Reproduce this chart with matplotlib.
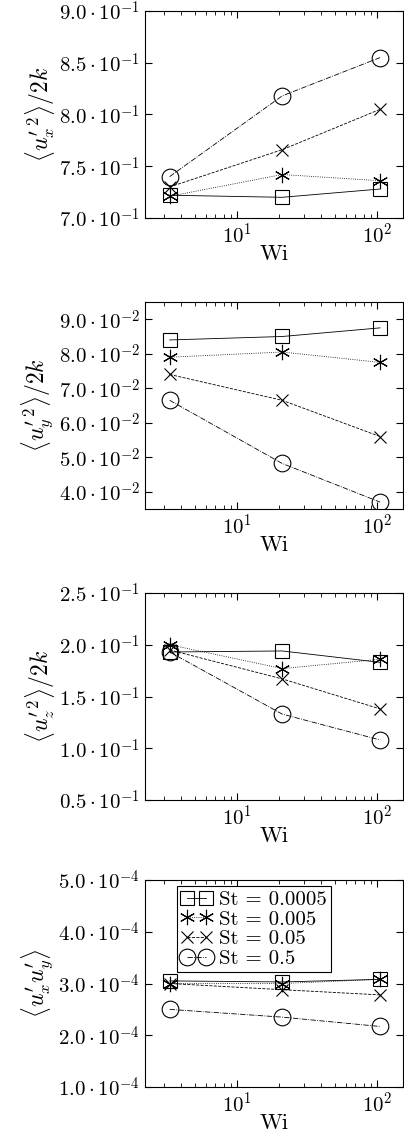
import matplotlib
matplotlib.use("Agg")
import matplotlib.pyplot as plt
from matplotlib.ticker import FixedLocator, FixedFormatter, LogLocator, NullFormatter

plt.rcParams['mathtext.fontset'] = 'cm'
plt.rcParams['font.family'] = ['cmr10', 'DejaVu Serif']
plt.rcParams['axes.formatter.use_mathtext'] = True

wi = [3.3, 21, 105]
labels = ["St = 0.0005", "St = 0.005", "St = 0.05", "St = 0.5"]

ux = [[7.22, 7.20, 7.28], [7.21, 7.42, 7.36], [7.30, 7.66, 8.05], [7.40, 8.18, 8.55]]
uy = [[8.4, 8.5, 8.75], [7.9, 8.05, 7.75], [7.4, 6.65, 5.6], [6.65, 4.82, 3.7]]
uz = [[1.93, 1.94, 1.83], [2.0, 1.77, 1.86], [1.95, 1.67, 1.38], [1.93, 1.33, 1.08]]
uxy = [[3.05, 3.03, 3.08], [3.0, 3.0, 3.08], [3.0, 2.88, 2.78], [2.5, 2.35, 2.17]]

ylabels = [r"$\langle u_x'^2\rangle/2k$", r"$\langle u_y'^2\rangle/2k$",
           r"$\langle u_z'^2\rangle/2k$", r"$\langle u_x' u_y'\rangle$"]
yticks = [[7.0, 7.5, 8.0, 8.5, 9.0], [4.0, 5.0, 6.0, 7.0, 8.0, 9.0],
          [0.5, 1.0, 1.5, 2.0, 2.5], [1.0, 2.0, 3.0, 4.0, 5.0]]
exps = [-1, -2, -1, -4]
ylims = [(7.0, 9.0), (3.5, 9.5), (0.5, 2.5), (1.0, 5.0)]
datas = [ux, uy, uz, uxy]

markers = ['s', (6, 2, 0), 'x', 'o']
styles = ['-', ':', '--', '-.']
msizes = [10, 11, 9, 12]

fig = plt.figure(figsize=(4.04, 11.33), dpi=100)
tops = [11, 302, 593, 880]
H = 1133
for i in range(4):
    top = tops[i]
    ax = fig.add_axes([145/404, 1 - (top + 207)/H, 258/404, 207/H])
    for j in range(4):
        ax.plot(wi, datas[i][j], linestyle=styles[j], marker=markers[j], color='black',
                lw=0.6, ms=msizes[j], mfc='none', mew=0.8, label=labels[j])
    ax.set_xscale('log')
    ax.set_xlim(2.2, 153)
    ax.set_ylim(*ylims[i])
    ax.yaxis.set_major_locator(FixedLocator(yticks[i]))
    ax.yaxis.set_major_formatter(FixedFormatter(
        [r"$%.1f\cdot10^{%d}$" % (v, exps[i]) for v in yticks[i]]))
    ax.xaxis.set_major_locator(LogLocator(base=10))
    ax.xaxis.set_minor_locator(LogLocator(base=10, subs=range(2, 10)))
    ax.xaxis.set_minor_formatter(NullFormatter())
    ax.tick_params(which='both', direction='in', top=True, right=True, labelsize=15)
    ax.tick_params(which='major', length=5)
    ax.tick_params(which='minor', length=3)
    ax.set_xlabel("Wi", fontsize=16, labelpad=-2)
    ax.set_ylabel(ylabels[i], fontsize=17, labelpad=2)
    for s in ax.spines.values():
        s.set_linewidth(0.8)
    if i == 3:
        leg = ax.legend(loc='upper left', bbox_to_anchor=(0.1, 1.0), fontsize=15,
                        fancybox=False, edgecolor='black', framealpha=1,
                        handlelength=1.5, handletextpad=0.3, borderpad=0.2,
                        labelspacing=0.05, borderaxespad=0.3, numpoints=2)
        leg.get_frame().set_linewidth(0.8)

fig.savefig("out.png", dpi=100)
